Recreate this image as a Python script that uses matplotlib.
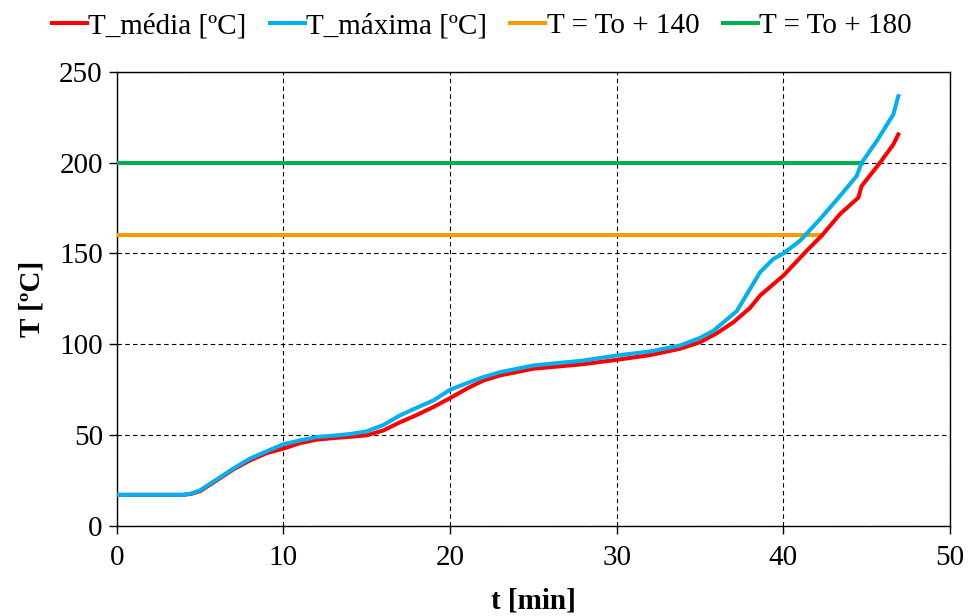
import numpy as np
import matplotlib.pyplot as plt

plt.rcParams['font.family'] = ['Liberation Serif', 'DejaVu Serif']

# curva de temperatura media
t_media = [0, 2, 4, 4.5, 5, 6, 7, 8, 9, 10, 11, 12, 13, 14, 15, 16, 17, 18, 19, 20, 21, 22,
           23, 25, 28, 30, 32, 33.8, 35, 36, 37, 38, 38.6, 40, 41.4, 42.3, 43.4, 44.5,
           44.7, 45.8, 46.6, 46.9]
T_media = [17, 17, 17, 17.6, 19, 25, 31, 36, 40, 42.5, 45.5, 47.4, 48.3, 49, 49.8, 52.5, 57, 61,
           65.4, 70.3, 75.5, 80, 82.8, 86.5, 89, 91.4, 94, 97.5, 101.1, 106, 112.1, 120, 126.8,
           137.8, 151.5, 159.8, 171.7, 180.8, 187.2, 200, 210.1, 215.6]

# curva de temperatura maxima
t_max = [0, 2, 4, 4.5, 5, 6, 7, 8, 9, 10, 11, 12, 13, 14, 15, 16, 17, 18, 19, 20, 21, 22,
         23, 25, 28, 30, 32, 33.8, 35, 35.8, 37.2, 38.6, 39.4, 40, 41.0, 42.2, 43.4, 44.4,
         44.7, 45.6, 46.6, 46.9]
T_max = [17, 17, 17, 17.8, 19.5, 25.5, 31.5, 37, 41, 44.9, 47, 48.9, 49.6, 50.5, 52, 55.5, 60.8,
         65, 69, 74.9, 78.5, 81.9, 84.6, 88.3, 91, 93.8, 96, 99.3, 103.5, 107.4, 118.2, 139.6,
         147, 150, 157, 168.9, 181.7, 192.7, 200, 211.9, 226.6, 236.7]

# lineas de referencia
t_ref140 = [0, 42.3]
T_ref140 = [160, 160]
t_ref180 = [0, 44.7]
T_ref180 = [200, 200]

fig = plt.figure(figsize=(9.68, 6.16), dpi=100)
ax = fig.add_axes([0.1206, 0.1466, 0.8608, 0.7365])

ax.plot(t_media, T_media, color='#ff0000', lw=2.9, label='T_média [ºC]', zorder=4,
        solid_joinstyle='round')
ax.plot(t_max, T_max, color='#00b0f0', lw=2.9, label='T_máxima [ºC]', zorder=5,
        solid_joinstyle='round')
ax.plot(t_ref140, T_ref140, color='#ff9900', lw=2.9, label='T = To + 140', zorder=3)
ax.plot(t_ref180, T_ref180, color='#00b050', lw=2.9, label='T = To + 180', zorder=3)

ax.set_xlim(0, 50)
ax.set_ylim(0, 250)
ax.set_xticks(np.arange(0, 51, 10))
ax.set_yticks(np.arange(0, 251, 50))
ax.grid(True, color='black', ls=(0, (4, 3)), lw=0.8)
ax.tick_params(direction='out', length=6, width=1, labelsize=21)
ax.tick_params(axis='x', pad=8)
ax.tick_params(axis='y', pad=4)
for s in ax.spines.values():
    s.set_color('black')
    s.set_linewidth(1)

ax.set_xlabel('t [min]', fontsize=21, fontweight='bold', labelpad=12)
ax.set_ylabel('T [ºC]', fontsize=21, fontweight='bold', labelpad=10)

ax.legend(loc='lower center', bbox_to_anchor=(0.438, 1.04), ncol=4, frameon=False,
          fontsize=21, handlelength=1.2, handletextpad=0.05, columnspacing=0.8,
          borderaxespad=0.1)

plt.savefig('out.png', dpi=100)
